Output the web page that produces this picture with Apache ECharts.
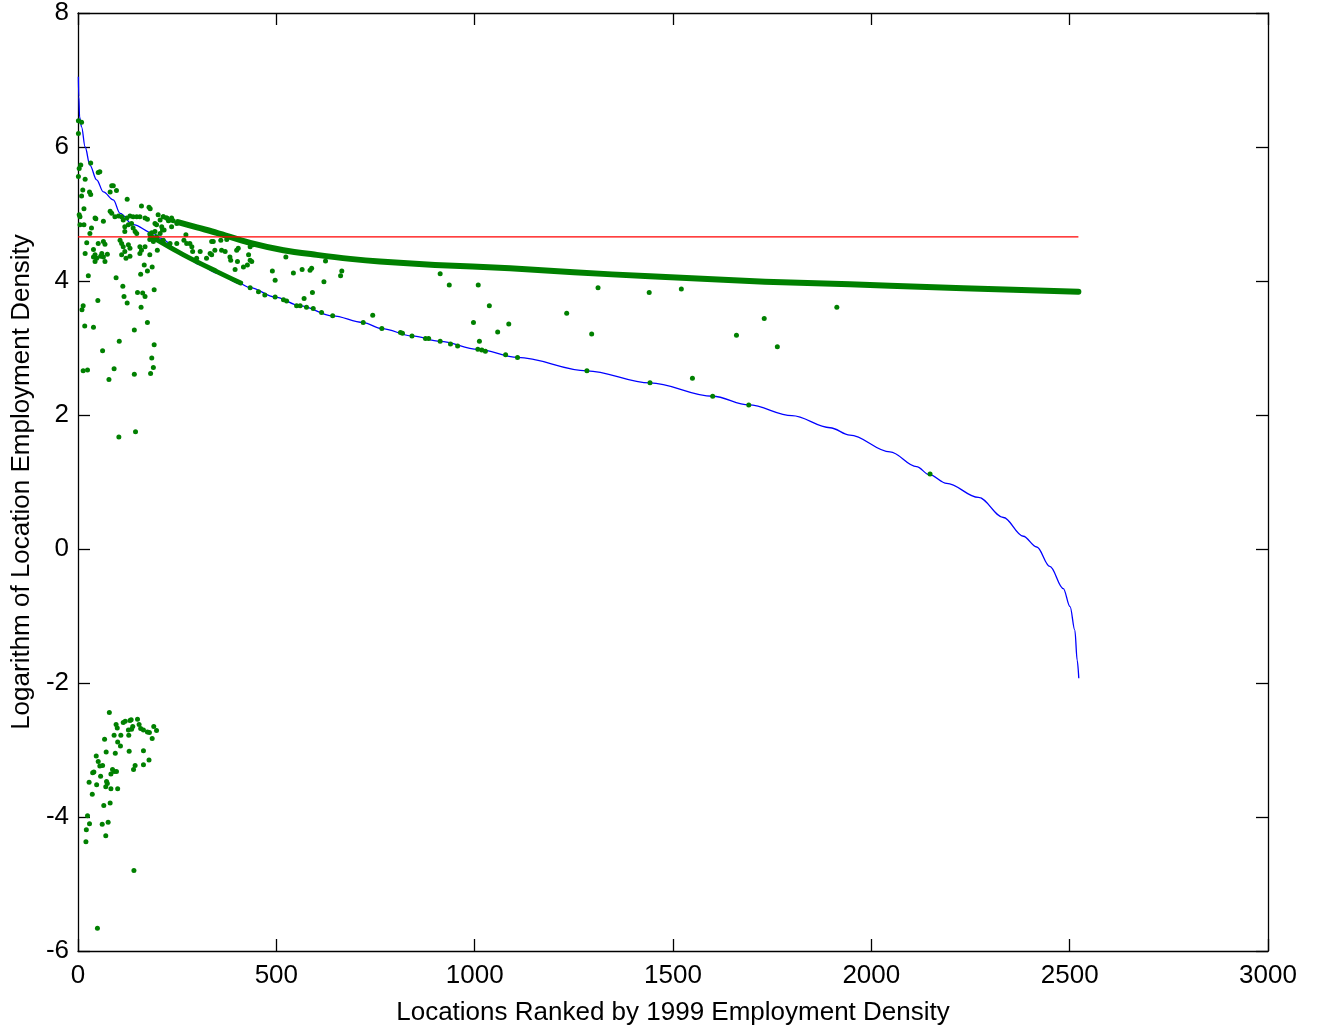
<!DOCTYPE html>
<html>
<head>
<meta charset="utf-8">
<script src="https://cdn.jsdelivr.net/npm/echarts@6/dist/echarts.min.js"></script>
<style>
html,body{margin:0;padding:0;background:#fff;}
#chart{width:1317px;height:1034px;}
</style>
</head>
<body>
<div id="chart"></div>
<script>
// Axis settings
const xTickValues = [0, 500, 1000, 1500, 2000, 2500, 3000];
const yTickValues = [-6, -4, -2, 0, 2, 4, 6, 8];
const xLabel = 'Locations Ranked by 1999 Employment Density';
const yLabel = 'Logarithm of Location Employment Density';

// Sorted 1999 log density (blue curve) [rank, value]
const rankedDensity1999 = [[1,7.05],[2,6.75],[4,6.45],[9,6.30],[18,6.0],[30,5.73],[47,5.51],[64,5.33],[89,5.21],[106,5.01],[139,4.84],[190,4.71],[207,4.64],[266,4.39],[308,4.24],[350,4.12],[408,3.96],[434,3.90],[497,3.76],[560,3.63],[642,3.48],[719,3.38],[766,3.29],[842,3.18],[913,3.10],[1008,2.98],[1108,2.86],[1283,2.66],[1442,2.48],[1600,2.28],[1691,2.15],[1800,1.99],[1896,1.81],[1946,1.70],[2047,1.45],[2114,1.23],[2146,1.11],[2190,0.98],[2270,0.77],[2333,0.47],[2383,0.19],[2417,0.03],[2450,-0.26],[2484,-0.59],[2501,-0.86],[2513,-1.21],[2519,-1.66],[2523,-1.93]];

// Mean level (red line)
const meanLevel = 4.66;
const meanRankRange = [0, 2522];

// Dense green band (upper) [rank, value]
const upperBand = [[252,4.88],[300,4.80],[350,4.72],[434,4.57],[518,4.46],[602,4.39],[686,4.33],[761,4.29],[900,4.24],[1089,4.19],[1250,4.13],[1442,4.07],[1732,3.99],[1946,3.95],[2047,3.93],[2232,3.89],[2522,3.84]];

// Dense green band (lower, along the curve)
const lowerBand = [[183,4.67],[266,4.39],[350,4.14],[410,3.97]];

// Individual green points [rank, value]
const pointsTopLeft = [[1,6.39],[9,6.37],[1,6.20],[3,5.68],[1,5.56],[7,5.73],[32,5.76],[51,5.62],[55,5.63],[18,5.52],[12,5.36],[9,5.27],[29,5.33],[32,5.29],[85,5.42],[89,5.42],[81,5.33],[97,5.35],[124,5.22],[160,5.12],[179,5.10],[182,5.08],[15,5.08],[3,4.99],[5,4.96],[43,4.94],[45,4.93],[64,4.89],[81,5.04],[85,5.01],[93,4.96],[102,4.97],[110,4.96],[114,4.91],[123,4.94],[131,4.97],[139,4.96],[148,4.96],[156,4.96],[169,4.94],[175,4.92],[202,4.99],[207,4.91],[215,4.96],[223,4.94],[228,4.90],[198,4.84],[194,4.74],[211,4.81],[213,4.76],[236,4.94],[240,4.90],[249,4.86],[5,4.84],[15,4.84],[34,4.79],[30,4.71],[118,4.81],[127,4.84],[135,4.86],[139,4.79],[144,4.74],[148,4.71],[118,4.74],[181,4.70],[186,4.72],[22,4.57],[51,4.56],[64,4.59],[68,4.55],[18,4.41],[43,4.39],[60,4.41],[64,4.36],[39,4.47],[39,4.36],[106,4.61],[110,4.56],[114,4.51],[127,4.54],[131,4.49],[156,4.51],[160,4.46],[169,4.51],[181,4.62],[190,4.59],[110,4.39],[118,4.44],[131,4.37],[156,4.41],[181,4.39]];

const pointsMidLeft = [[43,4.29],[47,4.34],[68,4.29],[74,4.40],[57,4.37],[121,4.34],[200,4.46],[26,4.08],[96,4.05],[167,4.24],[187,4.21],[175,4.15],[158,4.10],[113,3.92],[116,3.77],[124,3.67],[50,3.71],[150,3.83],[163,3.82],[169,3.77],[192,3.87],[159,3.61],[13,3.63],[10,3.57],[17,3.33],[39,3.31],[175,3.38],[142,3.27],[104,3.10],[62,2.96],[192,3.05],[186,2.85],[190,2.71],[183,2.62],[91,2.69],[78,2.53],[142,2.61],[13,2.66],[24,2.67],[103,1.67],[145,1.75]];

const pointsBetweenBands = [[430,4.39],[434,4.31],[438,4.29],[427,4.24],[417,4.21],[396,4.17],[402,4.29],[404,4.49],[400,4.46],[383,4.36],[385,4.31],[371,4.44],[362,4.46],[345,4.46],[341,4.59],[337,4.39],[333,4.41],[324,4.34],[308,4.44],[289,4.44],[299,4.34],[274,4.56],[282,4.56],[287,4.51],[267,4.61],[249,4.56],[232,4.56],[215,4.61],[198,4.66],[194,4.86],[215,4.96],[224,4.94],[232,4.91],[236,4.81],[217,4.76],[207,4.71],[360,4.61],[375,4.62],[337,4.59],[272,4.69],[434,4.51],[442,4.54],[524,4.36],[624,4.30],[665,4.15],[662,4.08],[620,3.99],[591,3.83],[570,3.74],[543,4.12],[565,4.17],[585,4.16],[589,4.19],[490,4.15],[497,4.01],[743,3.49],[913,4.11],[936,3.94],[1009,3.94],[1037,3.63],[997,3.38],[1086,3.36],[1058,3.24],[1012,3.10],[1232,3.52],[1311,3.90],[1295,3.21],[1440,3.83],[1521,3.88],[1730,3.44],[1660,3.19],[1763,3.02],[1913,3.61],[1549,2.55]];

const pointsOnCurve = [[434,3.90],[455,3.84],[471,3.79],[497,3.76],[518,3.72],[526,3.70],[551,3.63],[560,3.63],[576,3.61],[593,3.59],[614,3.53],[642,3.48],[719,3.38],[766,3.29],[813,3.23],[818,3.22],[842,3.18],[876,3.14],[884,3.14],[913,3.10],[939,3.06],[957,3.03],[1008,2.98],[1018,2.97],[1027,2.95],[1078,2.90],[1108,2.86],[1283,2.66],[1442,2.48],[1600,2.28],[1691,2.15],[2148,1.12]];

const pointsNegative = [[79,-2.44],[96,-2.62],[99,-2.67],[114,-2.59],[119,-2.57],[131,-2.56],[134,-2.55],[150,-2.54],[154,-2.62],[158,-2.68],[165,-2.70],[175,-2.73],[180,-2.74],[191,-2.65],[198,-2.71],[187,-2.83],[138,-2.65],[135,-2.69],[127,-2.70],[128,-2.78],[91,-2.78],[108,-2.78],[100,-2.88],[107,-2.94],[67,-2.84],[71,-3.03],[94,-3.05],[129,-3.02],[46,-3.09],[51,-3.17],[55,-3.24],[62,-3.23],[57,-3.39],[37,-3.34],[40,-3.33],[28,-3.48],[47,-3.52],[36,-3.66],[87,-3.29],[91,-3.32],[97,-3.32],[83,-3.36],[72,-3.47],[70,-3.55],[74,-3.50],[83,-3.58],[100,-3.58],[140,-3.29],[144,-3.23],[165,-3.22],[165,-3.01],[179,-3.15],[65,-3.83],[81,-3.79],[24,-3.98],[29,-4.10],[21,-4.19],[20,-4.37],[61,-4.11],[76,-4.08],[70,-4.28],[141,-4.80],[49,-5.66]];

const GREEN = '#008000';
const FONT = 'Liberation Sans, Arial, Helvetica, sans-serif';
const allPoints = [].concat(pointsTopLeft, pointsMidLeft, pointsBetweenBands, pointsOnCurve, pointsNegative);

const chart = echarts.init(document.getElementById('chart'), null, {renderer: 'canvas'});

function baseX(extra) {
  return Object.assign({
    type: 'value', min: xTickValues[0], max: xTickValues[xTickValues.length - 1], interval: 500,
    axisLine: {show: true, onZero: false, lineStyle: {color: '#000', width: 1.3}},
    axisTick: {show: true, inside: true, length: 12, lineStyle: {color: '#000', width: 1.3}},
    splitLine: {show: false},
    axisLabel: {show: true, color: '#000', fontSize: 26, fontFamily: FONT, margin: 12, formatter: v => String(v)}
  }, extra);
}
function baseY(extra) {
  return Object.assign({
    type: 'value', min: yTickValues[0], max: yTickValues[yTickValues.length - 1], interval: 2,
    axisLine: {show: true, onZero: false, lineStyle: {color: '#000', width: 1.3}},
    axisTick: {show: true, inside: true, length: 12, lineStyle: {color: '#000', width: 1.3}},
    splitLine: {show: false},
    axisLabel: {show: true, color: '#000', fontSize: 26, fontFamily: FONT, margin: 9, formatter: v => String(v)}
  }, extra);
}

chart.setOption({
  animation: false,
  backgroundColor: '#fff',
  grid: {left: 78, top: 13, right: 49, bottom: 83, containLabel: false},
  xAxis: [
    baseX({position: 'bottom', name: xLabel, nameLocation: 'middle', nameGap: 49,
      nameTextStyle: {color: '#000', fontSize: 26, fontFamily: FONT}}),
    baseX({position: 'top', axisLabel: {show: false}})
  ],
  yAxis: [
    baseY({position: 'left', name: yLabel, nameLocation: 'middle', nameGap: 42,
      nameTextStyle: {color: '#000', fontSize: 26, fontFamily: FONT}}),
    baseY({position: 'right', axisLabel: {show: false}})
  ],
  series: [
    {
      type: 'line', data: rankedDensity1999, showSymbol: false, symbol: 'none', z: 2,
      smooth: 0.35, smoothMonotone: 'x',
      lineStyle: {color: '#0000ff', width: 1.3}
    },
    {
      type: 'line', data: upperBand, showSymbol: false, symbol: 'none', smooth: 0.3, z: 3,
      lineStyle: {color: GREEN, width: 6, cap: 'round', join: 'round'}
    },
    {
      type: 'line', data: lowerBand, showSymbol: false, symbol: 'none', smooth: 0.3, z: 3,
      lineStyle: {color: GREEN, width: 5, cap: 'round', join: 'round'}
    },
    {
      type: 'scatter', data: allPoints, symbol: 'circle', symbolSize: 5, z: 4,
      itemStyle: {color: GREEN, opacity: 1}
    },
    {
      type: 'line', data: [[meanRankRange[0], meanLevel], [meanRankRange[1], meanLevel]],
      showSymbol: false, symbol: 'none', z: 5,
      lineStyle: {color: '#ff0000', width: 1.2}
    }
  ]
});
</script>
</body>
</html>
